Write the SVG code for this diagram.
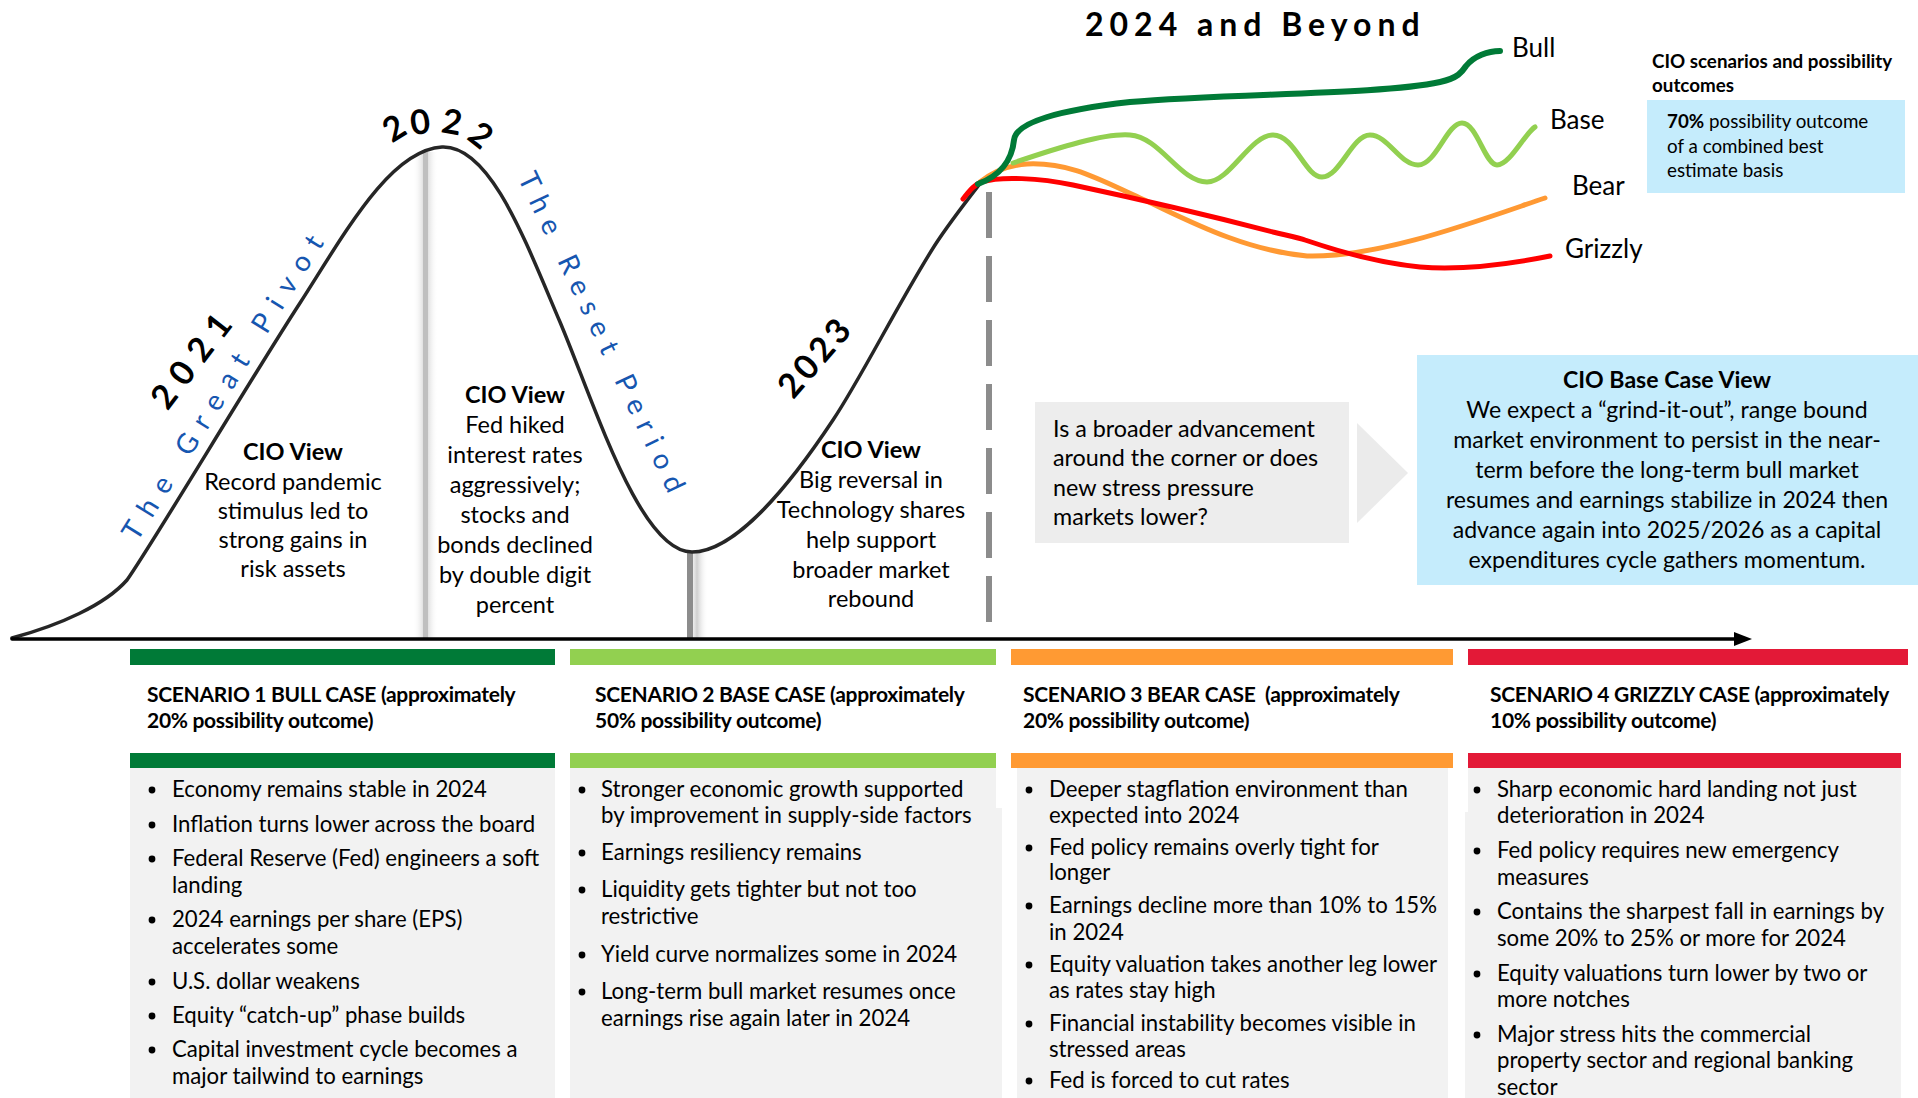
<svg xmlns="http://www.w3.org/2000/svg" width="1918" height="1098" viewBox="0 0 1918 1098">
<defs>
<style>
.t{font-family:Lato,"Liberation Sans",sans-serif;fill:#000}
.b{font-weight:700}
.bul{font-size:22.2px}
.hdr{font-size:21px;font-weight:700;letter-spacing:-0.3px}
.cio{font-size:23.5px;text-anchor:middle}
.lab{font-size:26px}
.blue{fill:#1656B0}
.dot{fill:#000}
.gbox{fill:#F2F2F2}
</style>
<linearGradient id="sh" x1="0" x2="1" y1="0" y2="0">
<stop offset="0" stop-color="#fff" stop-opacity="0"/>
<stop offset="0.5" stop-color="#cfcfcf"/>
<stop offset="1" stop-color="#fff" stop-opacity="0"/>
</linearGradient>
</defs>
<rect width="1918" height="1098" fill="#fff"/>

<g id="markers">
<rect x="413" y="152" width="25" height="487" fill="url(#sh)"/>
<line x1="425.5" y1="152" x2="425.5" y2="639" stroke="#BFBFBF" stroke-width="5"/>
<rect x="686" y="553" width="22" height="86" fill="url(#sh)"/>
<line x1="690" y1="553" x2="690" y2="639" stroke="#8C8C8C" stroke-width="6"/>
<line x1="989" y1="192" x2="989" y2="639" stroke="#8C8C8C" stroke-width="6" stroke-dasharray="46 18"/>
</g>

<g id="connectors" fill="none" stroke-linecap="round">
<path id="market-curve" d="M12,638 C60,625 105,605 127,580 C150,548 250,380 300,303 C345,233 390,150 442,147 C490,145 525,240 560,322 C595,405 640,552 692,552 C730,552 780,500 833,420 C860,380 900,300 935,245 C950,222 965,203 982,181" stroke="#262626" stroke-width="3.5"/>
<line x1="12" y1="639" x2="1738" y2="639" stroke="#000" stroke-width="3.5"/>
<polygon points="1734,632 1752,639 1734,646" fill="#000" stroke="none"/>
<path id="bear-line" d="M980,182 C995,170 1010,165 1027,164 C1070,162 1100,180 1140,198 C1180,216 1240,250 1307,256 C1380,258 1480,220 1545,198" stroke="#FF9933" stroke-width="5"/>
<path id="grizzly-line" d="M963,199 C970,190 975,184 982,182 C1000,176 1040,178 1073,185 C1120,195 1200,213 1273,232 C1290,236 1300,238 1305,240 C1340,252 1380,263 1420,267 C1470,271 1520,262 1550,256" stroke="#FF0000" stroke-width="5"/>
<path id="base-line" d="M1013,163 C1060,147 1105,133 1130,135 C1160,137 1180,182 1207,182 C1230,182 1250,135 1273,135 C1295,135 1305,177 1322,177 C1340,177 1352,135 1370,135 C1388,135 1400,165 1418,165 C1436,165 1447,123 1462,123 C1477,123 1485,165 1497,165 C1510,165 1525,133 1535,127" stroke="#92D050" stroke-width="5"/>
<path id="bull-line" d="M978,184 C1000,176 1012,160 1014,140 C1016,122 1060,110 1130,102 C1230,93 1380,95 1440,82 C1458,78 1462,72 1466,66 C1474,56 1488,51 1500,51" stroke="#007A37" stroke-width="6"/>
</g>

<g id="period-labels">
<text class="t b" font-size="34" letter-spacing="10" transform="translate(191,361) rotate(-52.5)" x="5" y="12" text-anchor="middle">2021</text>
<text class="t blue" font-size="28" letter-spacing="11.5" transform="translate(223,388) rotate(-58)" x="6" y="9" text-anchor="middle">The Great Pivot</text>
<g id="label-2022" class="t b" font-size="34" text-anchor="middle">
<text transform="translate(394,128) rotate(-32)" y="12">2</text>
<text transform="translate(420,122) rotate(-8)" y="12">0</text>
<text transform="translate(452,122) rotate(10)" y="12">2</text>
<text transform="translate(481,135) rotate(38)" y="12">2</text>
</g>
<text class="t blue" font-size="28" letter-spacing="9.5" transform="translate(601,332) rotate(64.5)" x="5" y="9" text-anchor="middle">The Reset Period</text>
<text class="t b" font-size="34" letter-spacing="4" transform="translate(814,358) rotate(-49)" x="2" y="12" text-anchor="middle">2023</text>
<text class="t b" font-size="32" letter-spacing="6" x="1085" y="36">2024 and Beyond</text>
</g>

<g id="cio-view-2021" class="t cio">
<text class="b" x="293" y="460">CIO View</text>
<text x="293" y="490">Record pandemic</text>
<text x="293" y="519">stimulus led to</text>
<text x="293" y="548">strong gains in</text>
<text x="293" y="577">risk assets</text>
</g>

<g id="cio-view-2022" class="t cio">
<text class="b" x="515" y="403">CIO View</text>
<text x="515" y="433">Fed hiked</text>
<text x="515" y="463">interest rates</text>
<text x="515" y="493">aggressively;</text>
<text x="515" y="523">stocks and</text>
<text x="515" y="553">bonds declined</text>
<text x="515" y="583">by double digit</text>
<text x="515" y="613">percent</text>
</g>

<g id="cio-view-2023" class="t cio">
<text class="b" x="871" y="458">CIO View</text>
<text x="871" y="488">Big reversal in</text>
<text x="871" y="518">Technology shares</text>
<text x="871" y="548">help support</text>
<text x="871" y="578">broader market</text>
<text x="871" y="607">rebound</text>
</g>

<g id="scenario-labels" class="t lab">
<text x="1512" y="57">Bull</text>
<text x="1550" y="129">Base</text>
<text x="1572" y="195">Bear</text>
<text x="1565" y="258">Grizzly</text>
</g>

<g id="cio-scenarios">
<text class="t b" font-size="18.8" x="1652" y="68">CIO scenarios and possibility</text>
<text class="t b" font-size="18.8" x="1652" y="92">outcomes</text>
<rect x="1647" y="100" width="258" height="93" fill="#C5ECFC"/>
<text class="t" font-size="18.8" x="1667" y="128"><tspan font-weight="700">70%</tspan> possibility outcome</text>
<text class="t" font-size="18.8" x="1667" y="153">of a combined best</text>
<text class="t" font-size="18.8" x="1667" y="177">estimate basis</text>
</g>

<g id="question-box">
<rect x="1035" y="402" width="314" height="141" fill="#EDEDED"/>
<g class="t" font-size="23.3">
<text x="1053" y="437">Is a broader advancement</text>
<text x="1053" y="466">around the corner or does</text>
<text x="1053" y="496">new stress pressure</text>
<text x="1053" y="525">markets lower?</text>
</g>
</g>

<g id="chevron">
<polygon points="1357,423 1408,473 1357,523" fill="#EBEBEB"/>
</g>

<g id="base-case-view">
<rect x="1417" y="355" width="501" height="230" fill="#C5ECFC"/>
<g class="t" font-size="23.1" text-anchor="middle">
<text class="b" x="1667" y="388">CIO Base Case View</text>
<text x="1667" y="418">We expect a “grind-it-out”, range bound</text>
<text x="1667" y="448">market environment to persist in the near-</text>
<text x="1667" y="478">term before the long-term bull market</text>
<text x="1667" y="508">resumes and earnings stabilize in 2024 then</text>
<text x="1667" y="538">advance again into 2025/2026 as a capital</text>
<text x="1667" y="568">expenditures cycle gathers momentum.</text>
</g>
</g>

<g id="scenario-bull">
<rect x="130" y="649" width="425" height="16" fill="#007A37"/>
<text class="t hdr" x="147" y="702">SCENARIO 1 BULL CASE (approximately</text>
<text class="t hdr" x="147" y="728">20% possibility outcome)</text>
<rect x="130" y="753" width="425" height="15" fill="#007A37"/>
<rect class="gbox" x="130" y="768" width="425" height="330"/>
<g class="dot"><circle cx="152" cy="790" r="3.4"/><circle cx="152" cy="825" r="3.4"/><circle cx="152" cy="859" r="3.4"/><circle cx="152" cy="920" r="3.4"/><circle cx="152" cy="982" r="3.4"/><circle cx="152" cy="1016" r="3.4"/><circle cx="152" cy="1050" r="3.4"/></g>
<g class="t bul">
<text x="172" y="797">Economy remains stable in 2024</text>
<text x="172" y="832">Inflation turns lower across the board</text>
<text x="172" y="866">Federal Reserve (Fed) engineers a soft</text>
<text x="172" y="893">landing</text>
<text x="172" y="927">2024 earnings per share (EPS)</text>
<text x="172" y="954">accelerates some</text>
<text x="172" y="989">U.S. dollar weakens</text>
<text x="172" y="1023">Equity “catch-up” phase builds</text>
<text x="172" y="1057">Capital investment cycle becomes a</text>
<text x="172" y="1084">major tailwind to earnings</text>
</g>
</g>

<g id="scenario-base">
<rect x="570" y="649" width="426" height="16" fill="#92D050"/>
<text class="t hdr" x="595" y="702">SCENARIO 2 BASE CASE (approximately</text>
<text class="t hdr" x="595" y="728">50% possibility outcome)</text>
<rect x="570" y="753" width="426" height="15" fill="#92D050"/>
<rect class="gbox" x="570" y="768" width="426" height="330"/>
<rect class="gbox" x="996" y="808" width="6" height="290"/>
<g class="dot"><circle cx="582" cy="790" r="3.4"/><circle cx="582" cy="853" r="3.4"/><circle cx="582" cy="890" r="3.4"/><circle cx="582" cy="955" r="3.4"/><circle cx="582" cy="992" r="3.4"/></g>
<g class="t bul">
<text x="601" y="797">Stronger economic growth supported</text>
<text x="601" y="823">by improvement in supply-side factors</text>
<text x="601" y="860">Earnings resiliency remains</text>
<text x="601" y="897">Liquidity gets tighter but not too</text>
<text x="601" y="924">restrictive</text>
<text x="601" y="962">Yield curve normalizes some in 2024</text>
<text x="601" y="999">Long-term bull market resumes once</text>
<text x="601" y="1026">earnings rise again later in 2024</text>
</g>
</g>

<g id="scenario-bear">
<rect x="1011" y="649" width="442" height="16" fill="#FF9A33"/>
<text class="t hdr" x="1023" y="702" xml:space="preserve">SCENARIO 3 BEAR CASE  (approximately</text>
<text class="t hdr" x="1023" y="728">20% possibility outcome)</text>
<rect x="1011" y="753" width="442" height="15" fill="#FF9A33"/>
<rect class="gbox" x="1017" y="768" width="431" height="330"/>
<g class="dot"><circle cx="1029" cy="790" r="3.4"/><circle cx="1029" cy="848" r="3.4"/><circle cx="1029" cy="906" r="3.4"/><circle cx="1029" cy="965" r="3.4"/><circle cx="1029" cy="1024" r="3.4"/><circle cx="1029" cy="1081" r="3.4"/></g>
<g class="t bul">
<text x="1049" y="797">Deeper stagflation environment than</text>
<text x="1049" y="823">expected into 2024</text>
<text x="1049" y="855">Fed policy remains overly tight for</text>
<text x="1049" y="880">longer</text>
<text x="1049" y="913">Earnings decline more than 10% to 15%</text>
<text x="1049" y="940">in 2024</text>
<text x="1049" y="972">Equity valuation takes another leg lower</text>
<text x="1049" y="998">as rates stay high</text>
<text x="1049" y="1031">Financial instability becomes visible in</text>
<text x="1049" y="1057">stressed areas</text>
<text x="1049" y="1088">Fed is forced to cut rates</text>
</g>
</g>

<g id="scenario-grizzly">
<rect x="1468" y="649" width="440" height="16" fill="#E31937"/>
<text class="t hdr" x="1490" y="702">SCENARIO 4 GRIZZLY CASE (approximately</text>
<text class="t hdr" x="1490" y="728">10% possibility outcome)</text>
<rect x="1468" y="753" width="433" height="15" fill="#E31937"/>
<rect class="gbox" x="1468" y="768" width="433" height="330"/>
<rect class="gbox" x="1465" y="812" width="4" height="286"/>
<g class="dot"><circle cx="1477" cy="790" r="3.4"/><circle cx="1477" cy="851" r="3.4"/><circle cx="1477" cy="912" r="3.4"/><circle cx="1477" cy="974" r="3.4"/><circle cx="1477" cy="1035" r="3.4"/></g>
<g class="t bul">
<text x="1497" y="797">Sharp economic hard landing not just</text>
<text x="1497" y="823">deterioration in 2024</text>
<text x="1497" y="858">Fed policy requires new emergency</text>
<text x="1497" y="885">measures</text>
<text x="1497" y="919">Contains the sharpest fall in earnings by</text>
<text x="1497" y="946">some 20% to 25% or more for 2024</text>
<text x="1497" y="981">Equity valuations turn lower by two or</text>
<text x="1497" y="1007">more notches</text>
<text x="1497" y="1042">Major stress hits the commercial</text>
<text x="1497" y="1068">property sector and regional banking</text>
<text x="1497" y="1095">sector</text>
</g>
</g>
</svg>
